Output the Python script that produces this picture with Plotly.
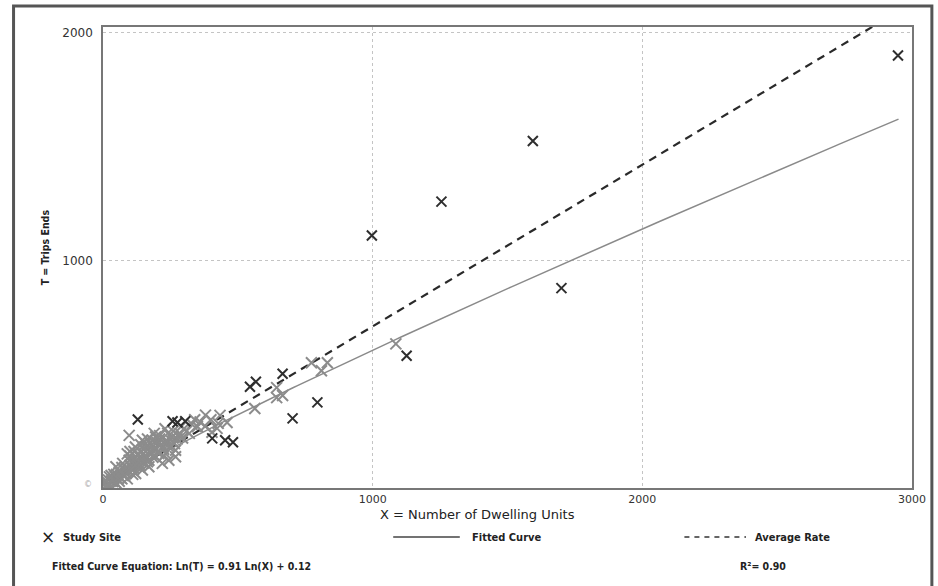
import numpy as np
import plotly.graph_objects as go

# ---- data ----
dark_x = [2948, 1594, 1255, 997, 1700, 1126, 795, 703, 545, 567, 666, 129, 258, 276, 305, 405, 453, 482]
dark_t = [1900, 1524, 1258, 1109, 878, 581, 376, 306, 445, 467, 502, 301, 293, 288, 293, 218, 210, 201]

gray_x = [97, 146, 158, 195, 183, 220, 232, 256, 269, 232, 195, 170, 134, 109, 85, 60, 36, 11, 5, 24,
          48, 73, 97, 121, 152, 183, 207, 244, 269, 220, 170, 146, 121, 100, 130, 160, 60, 40, 20, 80,
          110, 140, 200, 260, 280, 300, 90, 120, 180, 70, 50, 30, 15, 150, 190, 240, 210, 250, 110, 90,
          60, 160, 130, 175, 225, 290, 310, 330, 350, 100, 30, 45, 65, 20, 8, 12,
          25, 35, 45, 55, 65, 75, 85, 95, 105, 115, 125, 135, 145, 155, 165, 175, 185, 195, 205, 215,
          225, 235, 245, 255, 265, 275, 285, 295, 40, 70, 100, 120, 150, 180, 210, 240, 50, 80, 115, 140,
          165, 190, 230, 320, 340, 360, 380, 400,
          379, 434, 427, 460, 423, 404, 644, 644, 666, 563, 773, 832, 810, 1086]
gray_t = [231, 210, 195, 224, 210, 180, 195, 224, 166, 151, 137, 122, 93, 79, 64, 49, 28, 10, 21, 49,
          93, 108, 122, 137, 151, 166, 151, 122, 137, 108, 93, 79, 64, 100, 150, 180, 70, 40, 20, 80,
          120, 140, 200, 250, 230, 260, 150, 180, 150, 90, 60, 30, 15, 110, 170, 200, 230, 185, 60, 40,
          30, 130, 110, 200, 140, 270, 250, 280, 270, 160, 55, 25, 45, 35, 5, 30,
          15, 35, 50, 40, 70, 55, 90, 75, 95, 85, 120, 100, 125, 140, 115, 160, 135, 175, 160, 190,
          170, 210, 180, 205, 195, 215, 240, 220, 60, 40, 140, 100, 170, 190, 215, 240, 20, 55, 160, 190,
          215, 240, 260, 240, 300, 290, 320, 300,
          271, 319, 284, 288, 262, 245, 441, 397, 406, 349, 550, 550, 515, 633]

fit_a, fit_b = 0.91, 0.12      # Ln(T) = 0.91 Ln(X) + 0.12
avg_rate = 0.71
x_ticks = [0, 1000, 2000, 3000]
y_ticks = [0, 1000, 2000]

fx = np.linspace(10, 2950, 200)
ft = np.exp(fit_a * np.log(fx) + fit_b)
ax = np.array([200, 2950])
at = avg_rate * ax

WIDE = "DejaVu Sans, Verdana, sans-serif"
COND = "DejaVu Sans Condensed, DejaVu Sans, sans-serif"

fig = go.Figure()
fig.add_trace(go.Scatter(x=fx, y=ft, mode="lines", line=dict(color="#8a8a8a", width=1.5),
                         hoverinfo="skip", showlegend=False))
fig.add_trace(go.Scatter(x=ax, y=at, mode="lines", line=dict(color="#2a2a2a", width=2.2, dash="8px,6px"),
                         hoverinfo="skip", showlegend=False))
fig.add_trace(go.Scatter(x=gray_x, y=gray_t, mode="markers",
                         marker=dict(symbol="x-thin-open", size=11, color="#8c8c8c",
                                     line=dict(color="#8c8c8c", width=2)),
                         showlegend=False))
fig.add_trace(go.Scatter(x=dark_x, y=dark_t, mode="markers",
                         marker=dict(symbol="x-thin-open", size=10, color="#2e2e2e",
                                     line=dict(color="#2e2e2e", width=2)),
                         showlegend=False))

fig.update_layout(
    width=938, height=586,
    margin=dict(l=103, r=21, t=27, b=98),
    paper_bgcolor="white", plot_bgcolor="white",
    font=dict(family=WIDE, size=10, color="#222"),
    xaxis=dict(range=[0, 3000], tickvals=x_ticks, ticktext=[str(v) for v in x_ticks],
               showgrid=True, gridcolor="#c4c4c4", griddash="dot", gridwidth=1,
               showline=True, linecolor="#777", linewidth=1.5, mirror=True, zeroline=False,
               ticks="", tickfont=dict(size=11, family=WIDE, color="#333")),
    yaxis=dict(range=[0, 2025], tickvals=y_ticks, ticktext=["", "1000", "2000"],
               showgrid=True, gridcolor="#c4c4c4", griddash="dot", gridwidth=1,
               showline=True, linecolor="#777", linewidth=1.5, mirror=True, zeroline=False,
               ticks="", ticklabelstandoff=6, tickfont=dict(size=12, family=WIDE, color="#333")),
)

def px(p):
    return (p - 103) / 814

def py(p):
    return (488 - p) / 461

# axis titles
fig.add_annotation(xref="paper", yref="paper", x=px(480), y=py(514), text="X = Number of Dwelling Units",
                   showarrow=False, font=dict(size=13, family=WIDE, color="#222"),
                   xanchor="center", yanchor="middle")
fig.add_annotation(xref="paper", yref="paper", x=px(45), y=py(247), text="<b>T = Trips Ends</b>",
                   showarrow=False, textangle=-90, font=dict(size=10.5, family=COND, color="#222"),
                   xanchor="center", yanchor="middle")

# outer frame
fig.add_shape(type="rect", xref="paper", yref="paper", x0=px(13), x1=px(937), y0=-0.25, y1=py(6),
              line=dict(color="#555", width=3), layer="below")

# legend row
ly = py(537)
LF = dict(size=11, family=COND, color="#222")
fig.add_annotation(xref="paper", yref="paper", x=px(48), y=ly, text="×", showarrow=False,
                   font=dict(size=17, family=WIDE, color="#222"), xanchor="center", yanchor="middle")
fig.add_annotation(xref="paper", yref="paper", x=px(61), y=ly, text="<b>Study Site</b>", showarrow=False,
                   font=LF, xanchor="left", yanchor="middle")
fig.add_shape(type="line", xref="paper", yref="paper", x0=px(395), x1=px(462), y0=ly, y1=ly,
              line=dict(color="#444", width=1.5))
fig.add_annotation(xref="paper", yref="paper", x=px(472), y=ly, text="<b>Fitted Curve</b>", showarrow=False,
                   font=LF, xanchor="left", yanchor="middle")
fig.add_shape(type="line", xref="paper", yref="paper", x0=px(688), x1=px(750), y0=ly, y1=ly,
              line=dict(color="#333", width=1.5, dash="5px,5px"))
fig.add_annotation(xref="paper", yref="paper", x=px(757), y=ly, text="<b>Average Rate</b>", showarrow=False,
                   font=LF, xanchor="left", yanchor="middle")

ey = py(566)
fig.add_annotation(xref="paper", yref="paper", x=px(50), y=ey,
                   text="<b>Fitted Curve Equation: Ln(T) = 0.91 Ln(X) + 0.12</b>", showarrow=False,
                   font=dict(size=10.5, family=COND, color="#222"), xanchor="left", yanchor="middle")
fig.add_annotation(xref="paper", yref="paper", x=px(742), y=ey, text="<b>R²= 0.90</b>", showarrow=False,
                   font=dict(size=10.5, family=COND, color="#222"), xanchor="left", yanchor="middle")
fig.add_annotation(xref="paper", yref="paper", x=px(88), y=py(484), text="©", showarrow=False,
                   font=dict(size=8, family=WIDE, color="#aaa"), xanchor="center", yanchor="middle")

fig.write_html("out.html")
